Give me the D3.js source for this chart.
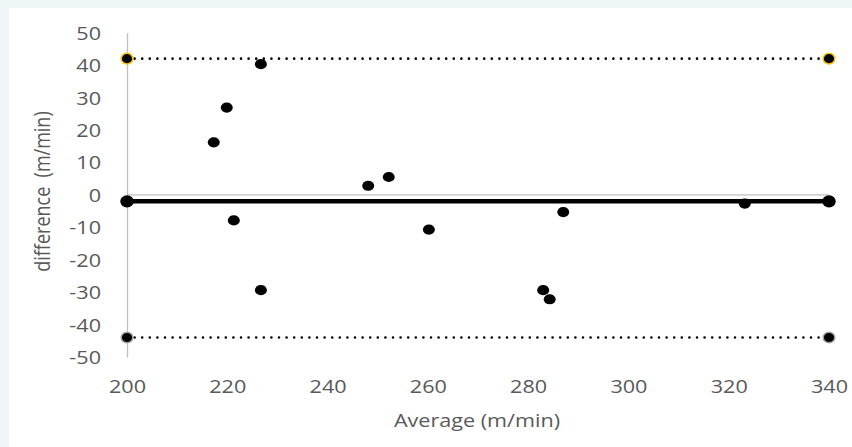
<!DOCTYPE html>
<html>
<head>
<meta charset="utf-8">
<script src="https://cdn.jsdelivr.net/npm/d3@7"></script>
<style>
  html, body { margin: 0; padding: 0; background: #eef7f5; }
  svg { display: block; }
  text { font-family: "Open Sans", sans-serif; fill: #595959; white-space: pre; }
</style>
</head>
<body>
<svg id="chart" width="852" height="447"></svg>
<script>
// ---- data ----
const averages = [217.3, 219.9, 221.3, 226.7, 226.7, 248.1, 252.2, 260.2, 283.0, 284.3, 287.0, 323.2];
const differences = [16.2, 26.9, -7.9, 40.3, -29.4, 2.8, 5.5, -10.7, -29.4, -32.2, -5.3, -2.7];
const meanBias = -2.0;
const upperLimit = 42.0;
const lowerLimit = -44.0;
const xRangeValues = [200, 340];
const xTicks = [200, 220, 240, 260, 280, 300, 320, 340];
const yTicks = [50, 40, 30, 20, 10, 0, -10, -20, -30, -40, -50];
const xTitle = "Average (m/min)";
const yTitle = "difference\u00a0\u00a0(m/min)";

// ---- layout ----
const W = 852, H = 447;
const svg = d3.select("#chart");
const SX = 1.2; // horizontal glyph stretch seen in the reference
const fmt = d => String(d); // plain hyphen-minus like the reference

svg.append("rect").attr("x", 9).attr("y", 8).attr("width", W - 9).attr("height", H - 8).attr("fill", "#ffffff");

const x = d3.scaleLinear().domain(xRangeValues).range([127, 829]);
const y = d3.scaleLinear().domain([-50, 50]).range([357, 32.7]);

// y axis
const yAxis = svg.append("g").attr("transform", `translate(${x(200)},0)`)
  .call(d3.axisLeft(y).tickValues(yTicks).tickSize(0).tickSizeOuter(0).tickFormat(fmt));
yAxis.select(".domain").attr("stroke", "#bfbfbf").attr("stroke-width", 1.3);
yAxis.selectAll("text")
  .attr("x", -26 / SX).attr("dy", "0.36em")
  .attr("transform", `scale(${SX},1)`)
  .style("font-size", "18px").style("font-family", "'Open Sans', sans-serif").attr("fill", "#595959");

// x axis line at zero
svg.append("line")
  .attr("x1", x(200)).attr("x2", x(340)).attr("y1", y(0)).attr("y2", y(0))
  .attr("stroke", "#bfbfbf").attr("stroke-width", 1.3);

// x tick labels
const xAxis = svg.append("g").attr("transform", `translate(0,393)`)
  .call(d3.axisBottom(x).tickValues(xTicks).tickSize(0).tickFormat(fmt));
xAxis.select(".domain").remove();
xAxis.selectAll("text")
  .attr("y", 0).attr("dy", 0)
  .attr("transform", `scale(${SX},1)`)
  .style("font-size", "18px").style("font-family", "'Open Sans', sans-serif").attr("fill", "#595959");

// limit lines (dotted)
[upperLimit, lowerLimit].forEach(v => {
  svg.append("line")
    .attr("x1", x(200)).attr("x2", x(340)).attr("y1", y(v)).attr("y2", y(v))
    .attr("stroke", "#000").attr("stroke-width", 2.6)
    .attr("stroke-linecap", "round").attr("stroke-dasharray", "0,7.6");
});

// mean line
svg.append("line")
  .attr("x1", x(200)).attr("x2", x(340)).attr("y1", y(meanBias)).attr("y2", y(meanBias))
  .attr("stroke", "#000").attr("stroke-width", 4.5);

// end markers
const ends = [200, 340];
ends.forEach(e => {
  svg.append("ellipse").attr("cx", x(e)).attr("cy", y(upperLimit)).attr("rx", 5.8).attr("ry", 5.3)
    .attr("fill", "#000").attr("stroke", "#FFC000").attr("stroke-width", 1.5);
  svg.append("ellipse").attr("cx", x(e)).attr("cy", y(lowerLimit)).attr("rx", 5.8).attr("ry", 5.3)
    .attr("fill", "#000").attr("stroke", "#a6a6a6").attr("stroke-width", 1.5);
  svg.append("ellipse").attr("cx", x(e)).attr("cy", y(meanBias)).attr("rx", 6.7).attr("ry", 6.1)
    .attr("fill", "#000");
});

// scatter points
svg.append("g").selectAll("ellipse")
  .data(averages.map((a, i) => ({ a, d: differences[i] })))
  .join("ellipse")
  .attr("cx", d => x(d.a)).attr("cy", d => y(d.d))
  .attr("rx", 6).attr("ry", 5.1).attr("fill", "#000");

// titles
svg.append("g").attr("transform", `translate(477,426.5) scale(${SX},1)`)
  .append("text").attr("text-anchor", "middle")
  .style("font-size", "18px").text(xTitle);

svg.append("g").attr("transform", `translate(50,191.5) scale(${SX},1) rotate(-90)`)
  .append("text").attr("text-anchor", "middle")
  .style("font-size", "18px").text(yTitle);
</script>
</body>
</html>
